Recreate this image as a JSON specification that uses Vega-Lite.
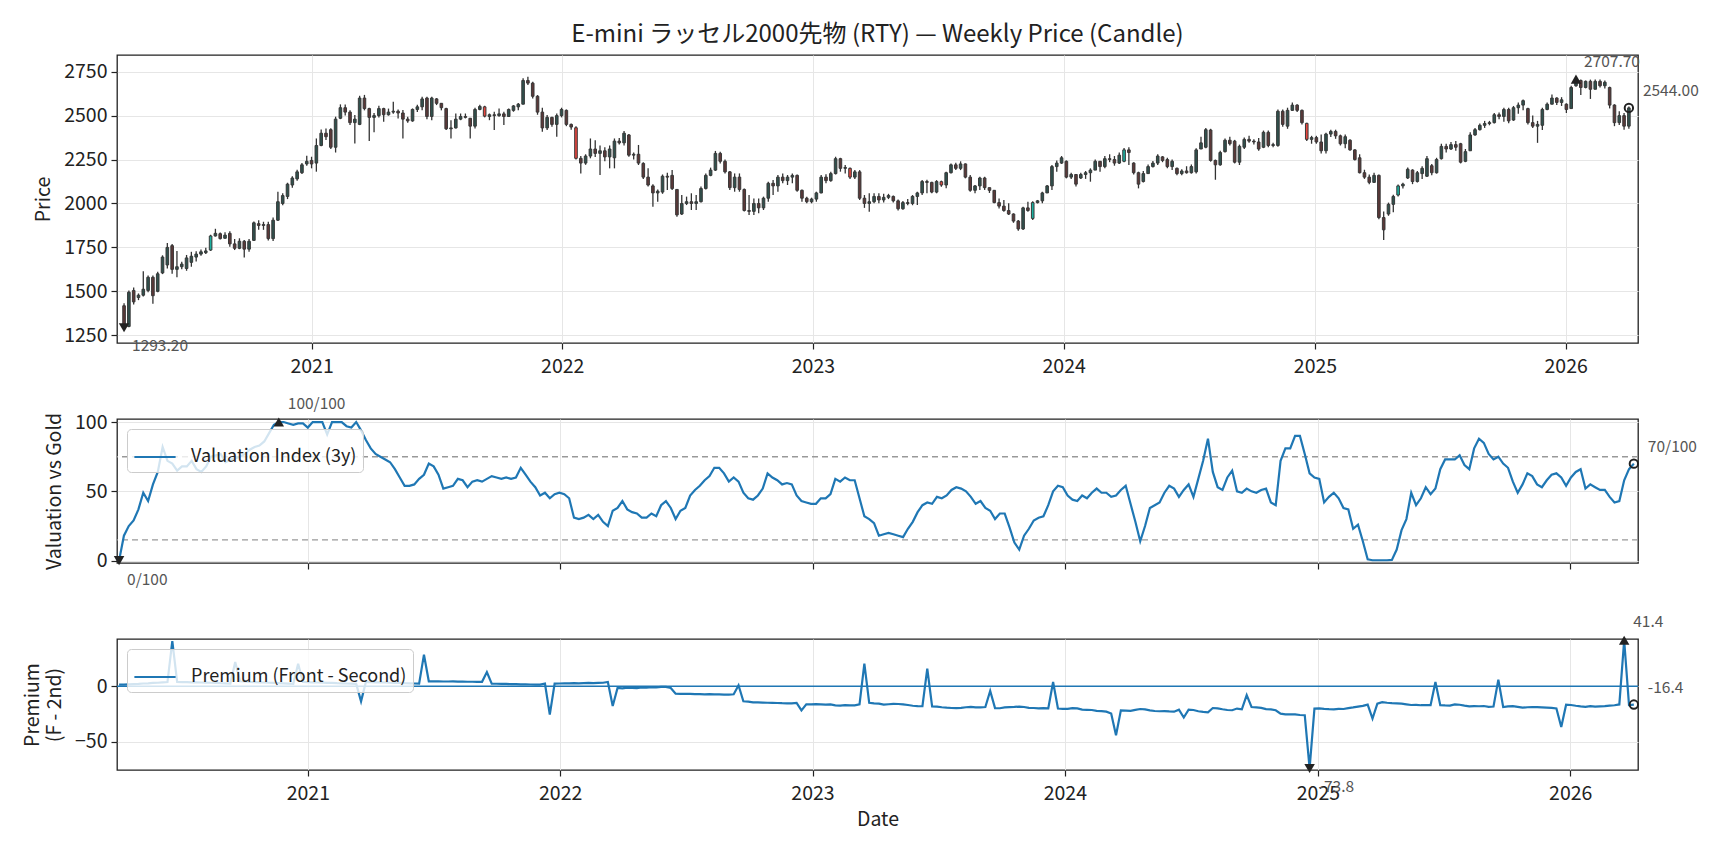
{
"$schema":"https://vega.github.io/schema/vega-lite/v6.json",
"padding":{"left":21,"top":22,"right":10,"bottom":10},
"spacing":76,
"bounds":"flush",
"config":{
 "font":"Noto Sans CJK JP",
 "view":{"stroke":"#222222","strokeWidth":1.3},
 "axis":{"domain":false,"grid":true,"gridColor":"#e6e6e6","gridWidth":1,"tickColor":"#222222","tickSize":6,"tickWidth":1.2,"labelColor":"#222222","labelFontSize":19.5,"titleFontSize":19.5,"titleFontWeight":"normal","titleColor":"#222222","labelPadding":4,"titlePadding":10},
 "legend":{"orient":"none","legendX":10,"legendY":10,"symbolType":"stroke","symbolSize":1700,"symbolStrokeWidth":2.2,"labelFontSize":18,"labelColor":"#222222","labelLimit":600,"fillColor":"rgba(255,255,255,0.8)","strokeColor":"#cccccc","cornerRadius":4,"padding":6,"labelOffset":14}
},
"data":{"values":[
{"d":"2020-04-03","o":1418,"h":1432,"l":1285,"c":1293.2,"v":0,"p":1.5},
{"d":"2020-04-10","o":1300,"h":1505,"l":1296,"c":1495,"v":18,"p":1.5},
{"d":"2020-04-17","o":1505,"h":1522,"l":1425,"c":1440,"v":25,"p":1.8},
{"d":"2020-04-24","o":1465,"h":1488,"l":1450,"c":1478,"v":29,"p":2},
{"d":"2020-05-01","o":1478,"h":1615,"l":1470,"c":1512,"v":37,"p":2.2},
{"d":"2020-05-08","o":1505,"h":1590,"l":1495,"c":1580,"v":49,"p":2.5},
{"d":"2020-05-15","o":1580,"h":1590,"l":1430,"c":1475,"v":43,"p":2.7},
{"d":"2020-05-22","o":1500,"h":1612,"l":1495,"c":1600,"v":55,"p":3},
{"d":"2020-05-29","o":1605,"h":1705,"l":1598,"c":1695,"v":64,"p":3.2},
{"d":"2020-06-05","o":1650,"h":1775,"l":1630,"c":1750,"v":82,"p":3.5},
{"d":"2020-06-12","o":1760,"h":1770,"l":1600,"c":1625,"v":72,"p":3.8},
{"d":"2020-06-19","o":1625,"h":1730,"l":1580,"c":1640,"v":70,"p":40.5},
{"d":"2020-06-26","o":1640,"h":1668,"l":1625,"c":1655,"v":65,"p":3.9},
{"d":"2020-07-03","o":1630,"h":1707,"l":1617,"c":1690,"v":68,"p":3.8},
{"d":"2020-07-10","o":1665,"h":1725,"l":1640,"c":1700,"v":68,"p":3.7},
{"d":"2020-07-17","o":1695,"h":1728,"l":1670,"c":1712,"v":72,"p":3.6},
{"d":"2020-07-24","o":1712,"h":1738,"l":1702,"c":1725,"v":66,"p":3.5},
{"d":"2020-07-31","o":1720,"h":1748,"l":1712,"c":1730,"v":64,"p":3.4},
{"d":"2020-08-07","o":1735,"h":1822,"l":1730,"c":1815,"v":68,"p":3.3,"sig":"buy"},
{"d":"2020-08-14","o":1815,"h":1856,"l":1812,"c":1830,"v":75,"p":3.2},
{"d":"2020-08-21","o":1828,"h":1835,"l":1795,"c":1800,"v":76,"p":3},
{"d":"2020-08-28","o":1802,"h":1836,"l":1800,"c":1820,"v":77,"p":2.8},
{"d":"2020-09-04","o":1830,"h":1842,"l":1754,"c":1770,"v":71,"p":2.7},
{"d":"2020-09-11","o":1770,"h":1798,"l":1735,"c":1745,"v":73,"p":2.5},
{"d":"2020-09-18","o":1745,"h":1802,"l":1740,"c":1785,"v":74,"p":21.9},
{"d":"2020-09-25","o":1785,"h":1792,"l":1692,"c":1740,"v":75,"p":4.5},
{"d":"2020-10-02","o":1740,"h":1798,"l":1725,"c":1785,"v":77,"p":4.3},
{"d":"2020-10-09","o":1790,"h":1898,"l":1788,"c":1890,"v":80,"p":4},
{"d":"2020-10-16","o":1885,"h":1905,"l":1850,"c":1875,"v":82,"p":3.8},
{"d":"2020-10-23","o":1875,"h":1896,"l":1850,"c":1880,"v":83,"p":3.6},
{"d":"2020-10-30","o":1880,"h":1896,"l":1790,"c":1800,"v":86,"p":3.4},
{"d":"2020-11-06","o":1800,"h":1920,"l":1786,"c":1905,"v":92,"p":3.2},
{"d":"2020-11-13","o":1905,"h":2067,"l":1900,"c":2010,"v":98,"p":3},
{"d":"2020-11-20","o":2000,"h":2058,"l":1990,"c":2045,"v":100,"p":2.8},
{"d":"2020-11-27","o":2040,"h":2118,"l":2025,"c":2110,"v":100,"p":2.6},
{"d":"2020-12-04","o":2105,"h":2155,"l":2090,"c":2145,"v":99,"p":2.4},
{"d":"2020-12-11","o":2140,"h":2192,"l":2130,"c":2180,"v":98,"p":2.2},
{"d":"2020-12-18","o":2175,"h":2230,"l":2168,"c":2220,"v":99,"p":20.3},
{"d":"2020-12-25","o":2225,"h":2272,"l":2215,"c":2240,"v":99,"p":3.9},
{"d":"2021-01-01","o":2245,"h":2266,"l":2200,"c":2225,"v":96,"p":3.7},
{"d":"2021-01-08","o":2230,"h":2370,"l":2181,"c":2330,"v":100,"p":3.6},
{"d":"2021-01-15","o":2330,"h":2421,"l":2325,"c":2400,"v":100,"p":3.4},
{"d":"2021-01-22","o":2400,"h":2427,"l":2361,"c":2380,"v":100,"p":3.3},
{"d":"2021-01-29","o":2420,"h":2428,"l":2310,"c":2320,"v":91,"p":3.1},
{"d":"2021-02-05","o":2320,"h":2494,"l":2290,"c":2480,"v":100,"p":3},
{"d":"2021-02-12","o":2485,"h":2564,"l":2480,"c":2545,"v":100,"p":2.8},
{"d":"2021-02-19","o":2545,"h":2564,"l":2500,"c":2520,"v":100,"p":2.7},
{"d":"2021-02-26","o":2520,"h":2530,"l":2446,"c":2460,"v":97,"p":2.5},
{"d":"2021-03-05","o":2460,"h":2503,"l":2342,"c":2480,"v":96,"p":2.4},
{"d":"2021-03-12","o":2450,"h":2613,"l":2446,"c":2600,"v":100,"p":2.2},
{"d":"2021-03-19","o":2600,"h":2618,"l":2530,"c":2540,"v":94,"p":-13.5},
{"d":"2021-03-26","o":2540,"h":2545,"l":2355,"c":2490,"v":87,"p":3.9},
{"d":"2021-04-02","o":2490,"h":2515,"l":2405,"c":2500,"v":81,"p":3.8},
{"d":"2021-04-09","o":2500,"h":2556,"l":2490,"c":2540,"v":77,"p":3.6},
{"d":"2021-04-16","o":2540,"h":2545,"l":2465,"c":2505,"v":75,"p":3.5},
{"d":"2021-04-23","o":2505,"h":2540,"l":2500,"c":2520,"v":73,"p":3.4},
{"d":"2021-04-30","o":2520,"h":2579,"l":2510,"c":2525,"v":71,"p":3.2},
{"d":"2021-05-07","o":2525,"h":2535,"l":2484,"c":2515,"v":66,"p":3.1},
{"d":"2021-05-14","o":2515,"h":2532,"l":2370,"c":2480,"v":60,"p":3},
{"d":"2021-05-21","o":2480,"h":2494,"l":2460,"c":2470,"v":54,"p":2.8},
{"d":"2021-05-28","o":2470,"h":2541,"l":2465,"c":2535,"v":54,"p":2.7},
{"d":"2021-06-04","o":2535,"h":2562,"l":2520,"c":2550,"v":55,"p":2.5},
{"d":"2021-06-11","o":2550,"h":2608,"l":2530,"c":2595,"v":59,"p":2.4},
{"d":"2021-06-18","o":2600,"h":2608,"l":2480,"c":2495,"v":62,"p":28.4},
{"d":"2021-06-25","o":2495,"h":2607,"l":2474,"c":2600,"v":70,"p":4.5},
{"d":"2021-07-02","o":2595,"h":2600,"l":2560,"c":2570,"v":68,"p":4.5},
{"d":"2021-07-09","o":2570,"h":2572,"l":2530,"c":2545,"v":62,"p":4.4},
{"d":"2021-07-16","o":2540,"h":2545,"l":2418,"c":2425,"v":52,"p":4.3},
{"d":"2021-07-23","o":2425,"h":2474,"l":2370,"c":2430,"v":53,"p":4.3},
{"d":"2021-07-30","o":2430,"h":2512,"l":2427,"c":2480,"v":54,"p":4.4},
{"d":"2021-08-06","o":2480,"h":2512,"l":2474,"c":2495,"v":59,"p":4.2},
{"d":"2021-08-13","o":2495,"h":2512,"l":2484,"c":2490,"v":58,"p":4.2},
{"d":"2021-08-20","o":2485,"h":2486,"l":2370,"c":2440,"v":53,"p":4.1},
{"d":"2021-08-27","o":2440,"h":2545,"l":2427,"c":2535,"v":57,"p":4.1},
{"d":"2021-09-03","o":2535,"h":2562,"l":2530,"c":2552,"v":58,"p":4},
{"d":"2021-09-10","o":2550,"h":2556,"l":2490,"c":2497,"v":57,"p":4,"sig":"sell"},
{"d":"2021-09-17","o":2495,"h":2512,"l":2474,"c":2505,"v":59,"p":12.8},
{"d":"2021-09-24","o":2505,"h":2522,"l":2418,"c":2500,"v":61,"p":2.4},
{"d":"2021-10-01","o":2500,"h":2541,"l":2494,"c":2510,"v":60,"p":2.3},
{"d":"2021-10-08","o":2510,"h":2522,"l":2446,"c":2495,"v":59,"p":2.2},
{"d":"2021-10-15","o":2495,"h":2541,"l":2494,"c":2535,"v":60,"p":2.1},
{"d":"2021-10-22","o":2530,"h":2560,"l":2522,"c":2555,"v":59,"p":2},
{"d":"2021-10-29","o":2550,"h":2572,"l":2530,"c":2565,"v":60,"p":1.9},
{"d":"2021-11-05","o":2565,"h":2712,"l":2565,"c":2700,"v":67,"p":1.8},
{"d":"2021-11-12","o":2700,"h":2721,"l":2674,"c":2685,"v":62,"p":1.7},
{"d":"2021-11-19","o":2685,"h":2693,"l":2598,"c":2610,"v":57,"p":1.6},
{"d":"2021-11-26","o":2610,"h":2617,"l":2505,"c":2520,"v":53,"p":1.5},
{"d":"2021-12-03","o":2520,"h":2545,"l":2408,"c":2430,"v":47,"p":1.5},
{"d":"2021-12-10","o":2430,"h":2503,"l":2418,"c":2490,"v":49,"p":2.5},
{"d":"2021-12-17","o":2490,"h":2494,"l":2437,"c":2450,"v":45,"p":-25.5},
{"d":"2021-12-24","o":2450,"h":2512,"l":2380,"c":2500,"v":48,"p":2.4},
{"d":"2021-12-31","o":2500,"h":2545,"l":2490,"c":2535,"v":49,"p":2.5},
{"d":"2022-01-07","o":2530,"h":2535,"l":2440,"c":2450,"v":48,"p":2.6},
{"d":"2022-01-14","o":2450,"h":2455,"l":2420,"c":2435,"v":45,"p":2.7},
{"d":"2022-01-21","o":2431,"h":2440,"l":2250,"c":2257,"v":31,"p":2.8,"sig":"sell"},
{"d":"2022-01-28","o":2257,"h":2270,"l":2171,"c":2230,"v":30,"p":2.6},
{"d":"2022-02-04","o":2230,"h":2280,"l":2220,"c":2270,"v":31,"p":2.9},
{"d":"2022-02-11","o":2270,"h":2370,"l":2257,"c":2310,"v":33,"p":3},
{"d":"2022-02-18","o":2310,"h":2360,"l":2265,"c":2285,"v":30,"p":2.8},
{"d":"2022-02-25","o":2285,"h":2330,"l":2162,"c":2300,"v":33,"p":3.1},
{"d":"2022-03-04","o":2300,"h":2320,"l":2240,"c":2265,"v":28,"p":3.2},
{"d":"2022-03-11","o":2265,"h":2330,"l":2200,"c":2310,"v":25,"p":3.9},
{"d":"2022-03-18","o":2260,"h":2370,"l":2200,"c":2355,"v":36,"p":-17.7},
{"d":"2022-03-25","o":2355,"h":2372,"l":2335,"c":2345,"v":38,"p":-1.5},
{"d":"2022-04-01","o":2345,"h":2412,"l":2330,"c":2400,"v":43,"p":-1.8},
{"d":"2022-04-08","o":2390,"h":2395,"l":2266,"c":2275,"v":37,"p":-1.2},
{"d":"2022-04-15","o":2275,"h":2290,"l":2250,"c":2280,"v":35,"p":-1.4},
{"d":"2022-04-22","o":2280,"h":2333,"l":2219,"c":2230,"v":34,"p":-1.6},
{"d":"2022-04-29","o":2228,"h":2235,"l":2140,"c":2150,"v":31,"p":-1},
{"d":"2022-05-06","o":2150,"h":2200,"l":2096,"c":2105,"v":31,"p":-1.2},
{"d":"2022-05-13","o":2100,"h":2110,"l":1982,"c":2060,"v":34,"p":-0.8},
{"d":"2022-05-20","o":2060,"h":2080,"l":2010,"c":2070,"v":32,"p":-0.9},
{"d":"2022-05-27","o":2065,"h":2165,"l":2055,"c":2155,"v":40,"p":-0.6},
{"d":"2022-06-03","o":2155,"h":2175,"l":2077,"c":2150,"v":43,"p":-0.5},
{"d":"2022-06-10","o":2160,"h":2190,"l":2077,"c":2085,"v":38,"p":-1.5},
{"d":"2022-06-17","o":2080,"h":2080,"l":1925,"c":1935,"v":30,"p":-6.6},
{"d":"2022-06-24","o":1940,"h":2048,"l":1935,"c":2000,"v":36,"p":-6.8},
{"d":"2022-07-01","o":2000,"h":2039,"l":1991,"c":2010,"v":38,"p":-6.7},
{"d":"2022-07-08","o":2010,"h":2058,"l":1963,"c":2000,"v":47,"p":-6.8},
{"d":"2022-07-15","o":2000,"h":2048,"l":1963,"c":2010,"v":51,"p":-7},
{"d":"2022-07-22","o":2010,"h":2096,"l":2005,"c":2085,"v":54,"p":-7},
{"d":"2022-07-29","o":2085,"h":2171,"l":2080,"c":2160,"v":58,"p":-7.2},
{"d":"2022-08-05","o":2160,"h":2204,"l":2155,"c":2190,"v":61,"p":-7.1},
{"d":"2022-08-12","o":2190,"h":2299,"l":2185,"c":2285,"v":67,"p":-7.3},
{"d":"2022-08-19","o":2285,"h":2295,"l":2228,"c":2240,"v":67,"p":-7.3},
{"d":"2022-08-26","o":2240,"h":2250,"l":2171,"c":2180,"v":63,"p":-7.4},
{"d":"2022-09-02","o":2180,"h":2185,"l":2077,"c":2090,"v":57,"p":-7.5},
{"d":"2022-09-09","o":2090,"h":2171,"l":2067,"c":2150,"v":60,"p":-7.2},
{"d":"2022-09-16","o":2150,"h":2171,"l":2067,"c":2080,"v":57,"p":0.9},
{"d":"2022-09-23","o":2080,"h":2085,"l":1954,"c":1960,"v":49,"p":-13.5},
{"d":"2022-09-30","o":1960,"h":2048,"l":1934,"c":1955,"v":45,"p":-13.8},
{"d":"2022-10-07","o":1955,"h":2029,"l":1934,"c":2000,"v":44,"p":-14.5},
{"d":"2022-10-14","o":2000,"h":2029,"l":1944,"c":1975,"v":47,"p":-14.4},
{"d":"2022-10-21","o":1975,"h":2039,"l":1963,"c":2030,"v":52,"p":-14.6},
{"d":"2022-10-28","o":2030,"h":2124,"l":2010,"c":2115,"v":63,"p":-14.8},
{"d":"2022-11-04","o":2115,"h":2133,"l":2048,"c":2100,"v":60,"p":-14.9},
{"d":"2022-11-11","o":2100,"h":2162,"l":2067,"c":2150,"v":58,"p":-15},
{"d":"2022-11-18","o":2150,"h":2171,"l":2115,"c":2130,"v":55,"p":-15.2},
{"d":"2022-11-25","o":2130,"h":2162,"l":2105,"c":2150,"v":56,"p":-15.3},
{"d":"2022-12-02","o":2150,"h":2171,"l":2115,"c":2160,"v":55,"p":-15.3},
{"d":"2022-12-09","o":2160,"h":2165,"l":2067,"c":2075,"v":47,"p":-14.9},
{"d":"2022-12-16","o":2075,"h":2080,"l":2010,"c":2030,"v":43,"p":-21.6},
{"d":"2022-12-23","o":2030,"h":2039,"l":2001,"c":2010,"v":42,"p":-16.2},
{"d":"2022-12-30","o":2010,"h":2033,"l":2001,"c":2025,"v":41,"p":-16.2},
{"d":"2023-01-06","o":2025,"h":2067,"l":2010,"c":2060,"v":41,"p":-16.1},
{"d":"2023-01-13","o":2060,"h":2162,"l":2058,"c":2150,"v":45,"p":-16.2},
{"d":"2023-01-20","o":2150,"h":2166,"l":2115,"c":2130,"v":45,"p":-16.4},
{"d":"2023-01-27","o":2130,"h":2181,"l":2124,"c":2170,"v":48,"p":-16.3},
{"d":"2023-02-03","o":2170,"h":2266,"l":2165,"c":2255,"v":59,"p":-17.2},
{"d":"2023-02-10","o":2255,"h":2260,"l":2181,"c":2200,"v":57,"p":-17.3},
{"d":"2023-02-17","o":2200,"h":2219,"l":2171,"c":2205,"v":60,"p":-17},
{"d":"2023-02-24","o":2200,"h":2205,"l":2140,"c":2150,"v":58,"p":-17.2,"sig":"sell"},
{"d":"2023-03-03","o":2150,"h":2190,"l":2140,"c":2180,"v":58,"p":-17.1},
{"d":"2023-03-10","o":2180,"h":2190,"l":2020,"c":2030,"v":45,"p":-16.2},
{"d":"2023-03-17","o":2030,"h":2048,"l":1975,"c":2000,"v":32,"p":20.3},
{"d":"2023-03-24","o":2000,"h":2058,"l":1953,"c":2010,"v":30,"p":-14.8},
{"d":"2023-03-31","o":2010,"h":2058,"l":2001,"c":2040,"v":27,"p":-15.3},
{"d":"2023-04-07","o":2040,"h":2058,"l":2001,"c":2020,"v":18,"p":-15.6},
{"d":"2023-04-14","o":2020,"h":2055,"l":2005,"c":2035,"v":19,"p":-16.5},
{"d":"2023-04-21","o":2035,"h":2055,"l":2025,"c":2045,"v":20,"p":-16.1},
{"d":"2023-04-28","o":2040,"h":2045,"l":2005,"c":2015,"v":19,"p":-15.8},
{"d":"2023-05-05","o":2015,"h":2022,"l":1960,"c":1970,"v":18,"p":-15.9},
{"d":"2023-05-12","o":1970,"h":2014,"l":1965,"c":2005,"v":17,"p":-16.2},
{"d":"2023-05-19","o":2005,"h":2025,"l":1990,"c":2000,"v":23,"p":-16.8},
{"d":"2023-05-26","o":2000,"h":2048,"l":1990,"c":2040,"v":28,"p":-17.5},
{"d":"2023-06-02","o":2040,"h":2067,"l":1991,"c":2060,"v":35,"p":-17.8},
{"d":"2023-06-09","o":2060,"h":2133,"l":2048,"c":2125,"v":40,"p":-17.9},
{"d":"2023-06-16","o":2125,"h":2135,"l":2058,"c":2120,"v":42,"p":15.8},
{"d":"2023-06-23","o":2120,"h":2124,"l":2058,"c":2065,"v":41,"p":-18},
{"d":"2023-06-30","o":2065,"h":2133,"l":2058,"c":2125,"v":46,"p":-18.2},
{"d":"2023-07-07","o":2124,"h":2130,"l":2095,"c":2105,"v":45,"p":-18.8,"sig":"sell"},
{"d":"2023-07-14","o":2105,"h":2181,"l":2086,"c":2175,"v":47,"p":-19.2},
{"d":"2023-07-21","o":2175,"h":2228,"l":2171,"c":2220,"v":51,"p":-19.5},
{"d":"2023-07-28","o":2220,"h":2232,"l":2190,"c":2200,"v":53,"p":-19.6},
{"d":"2023-08-04","o":2200,"h":2240,"l":2190,"c":2225,"v":52,"p":-19.3},
{"d":"2023-08-11","o":2225,"h":2228,"l":2143,"c":2150,"v":50,"p":-18.8},
{"d":"2023-08-18","o":2150,"h":2162,"l":2067,"c":2075,"v":46,"p":-18.5},
{"d":"2023-08-25","o":2075,"h":2105,"l":2058,"c":2100,"v":41,"p":-18.9},
{"d":"2023-09-01","o":2100,"h":2152,"l":2077,"c":2145,"v":43,"p":-19},
{"d":"2023-09-08","o":2145,"h":2152,"l":2077,"c":2090,"v":38,"p":-18.6},
{"d":"2023-09-15","o":2090,"h":2090,"l":2060,"c":2075,"v":36,"p":-4.2},
{"d":"2023-09-22","o":2075,"h":2077,"l":2001,"c":2005,"v":30,"p":-19.6},
{"d":"2023-09-29","o":2005,"h":2029,"l":1972,"c":1985,"v":34,"p":-19.7},
{"d":"2023-10-06","o":1985,"h":2020,"l":1953,"c":1960,"v":34,"p":-19},
{"d":"2023-10-13","o":1960,"h":2001,"l":1934,"c":1940,"v":24,"p":-18.7},
{"d":"2023-10-20","o":1940,"h":1944,"l":1890,"c":1900,"v":13,"p":-18.5},
{"d":"2023-10-27","o":1900,"h":1906,"l":1845,"c":1855,"v":8,"p":-18.2},
{"d":"2023-11-03","o":1855,"h":1982,"l":1849,"c":1975,"v":18,"p":-18.6},
{"d":"2023-11-10","o":1975,"h":2010,"l":1953,"c":1960,"v":23,"p":-19.4},
{"d":"2023-11-17","o":1915,"h":2012,"l":1906,"c":2005,"v":29,"p":-19.5,"sig":"buy"},
{"d":"2023-11-24","o":2005,"h":2020,"l":2000,"c":2015,"v":31,"p":-19.8},
{"d":"2023-12-01","o":2015,"h":2067,"l":2001,"c":2060,"v":32,"p":-19.6},
{"d":"2023-12-08","o":2060,"h":2105,"l":2060,"c":2100,"v":40,"p":-19.9},
{"d":"2023-12-15","o":2100,"h":2219,"l":2077,"c":2210,"v":50,"p":3.9},
{"d":"2023-12-22","o":2210,"h":2245,"l":2181,"c":2230,"v":54,"p":-20},
{"d":"2023-12-29","o":2230,"h":2270,"l":2225,"c":2260,"v":53,"p":-20.2},
{"d":"2024-01-05","o":2240,"h":2245,"l":2143,"c":2150,"v":47,"p":-20.3},
{"d":"2024-01-12","o":2150,"h":2175,"l":2140,"c":2165,"v":44,"p":-19.6},
{"d":"2024-01-19","o":2165,"h":2165,"l":2096,"c":2110,"v":43,"p":-19.8},
{"d":"2024-01-26","o":2145,"h":2175,"l":2140,"c":2165,"v":47,"p":-21},
{"d":"2024-02-02","o":2165,"h":2185,"l":2140,"c":2175,"v":45,"p":-21.1},
{"d":"2024-02-09","o":2175,"h":2200,"l":2124,"c":2190,"v":49,"p":-21.3},
{"d":"2024-02-16","o":2190,"h":2250,"l":2190,"c":2240,"v":52,"p":-22},
{"d":"2024-02-23","o":2240,"h":2240,"l":2181,"c":2210,"v":49,"p":-22.3},
{"d":"2024-03-01","o":2210,"h":2270,"l":2200,"c":2255,"v":49,"p":-22.8},
{"d":"2024-03-08","o":2255,"h":2280,"l":2235,"c":2250,"v":46,"p":-24.5},
{"d":"2024-03-15","o":2250,"h":2270,"l":2215,"c":2230,"v":47,"p":-44},
{"d":"2024-03-22","o":2230,"h":2290,"l":2225,"c":2275,"v":51,"p":-21.6},
{"d":"2024-03-29","o":2240,"h":2316,"l":2235,"c":2305,"v":54,"p":-21.8,"sig":"buy"},
{"d":"2024-04-05","o":2305,"h":2320,"l":2219,"c":2290,"v":41,"p":-22},
{"d":"2024-04-12","o":2230,"h":2235,"l":2165,"c":2175,"v":28,"p":-21.2},
{"d":"2024-04-19","o":2175,"h":2181,"l":2086,"c":2110,"v":14,"p":-20.4},
{"d":"2024-04-26","o":2125,"h":2185,"l":2120,"c":2170,"v":25,"p":-20.8},
{"d":"2024-05-03","o":2170,"h":2222,"l":2170,"c":2210,"v":38,"p":-21.6},
{"d":"2024-05-10","o":2210,"h":2242,"l":2205,"c":2230,"v":40,"p":-22.2},
{"d":"2024-05-17","o":2230,"h":2280,"l":2219,"c":2270,"v":42,"p":-22.4},
{"d":"2024-05-24","o":2265,"h":2270,"l":2235,"c":2245,"v":49,"p":-22.3},
{"d":"2024-05-31","o":2250,"h":2260,"l":2200,"c":2210,"v":54,"p":-22.6},
{"d":"2024-06-07","o":2210,"h":2250,"l":2190,"c":2240,"v":52,"p":-22.8},
{"d":"2024-06-14","o":2200,"h":2205,"l":2160,"c":2170,"v":46,"p":-21},
{"d":"2024-06-21","o":2170,"h":2195,"l":2160,"c":2185,"v":51,"p":-28},
{"d":"2024-06-28","o":2185,"h":2212,"l":2170,"c":2175,"v":55,"p":-21},
{"d":"2024-07-05","o":2175,"h":2222,"l":2170,"c":2210,"v":46,"p":-21.3},
{"d":"2024-07-12","o":2180,"h":2315,"l":2171,"c":2305,"v":59,"p":-22.4},
{"d":"2024-07-19","o":2310,"h":2380,"l":2310,"c":2345,"v":72,"p":-23},
{"d":"2024-07-26","o":2320,"h":2430,"l":2314,"c":2420,"v":88,"p":-23.4},
{"d":"2024-08-02","o":2418,"h":2425,"l":2238,"c":2245,"v":64,"p":-19.5},
{"d":"2024-08-09","o":2245,"h":2250,"l":2135,"c":2220,"v":53,"p":-19.8},
{"d":"2024-08-16","o":2220,"h":2300,"l":2215,"c":2290,"v":51,"p":-20.6},
{"d":"2024-08-23","o":2295,"h":2370,"l":2290,"c":2360,"v":60,"p":-21.3},
{"d":"2024-08-30","o":2360,"h":2380,"l":2330,"c":2340,"v":65,"p":-21.5},
{"d":"2024-09-06","o":2355,"h":2362,"l":2228,"c":2235,"v":50,"p":-20},
{"d":"2024-09-13","o":2235,"h":2335,"l":2219,"c":2325,"v":49,"p":-20.7},
{"d":"2024-09-20","o":2320,"h":2375,"l":2310,"c":2365,"v":52,"p":-8},
{"d":"2024-09-27","o":2365,"h":2385,"l":2345,"c":2355,"v":50,"p":-18.6},
{"d":"2024-10-04","o":2355,"h":2365,"l":2335,"c":2350,"v":49,"p":-19},
{"d":"2024-10-11","o":2350,"h":2372,"l":2300,"c":2310,"v":51,"p":-19.4},
{"d":"2024-10-18","o":2320,"h":2415,"l":2315,"c":2405,"v":52,"p":-20.5},
{"d":"2024-10-25","o":2405,"h":2415,"l":2320,"c":2330,"v":42,"p":-20.8},
{"d":"2024-11-01","o":2330,"h":2345,"l":2320,"c":2335,"v":40,"p":-21.5},
{"d":"2024-11-08","o":2330,"h":2535,"l":2323,"c":2525,"v":72,"p":-24.6},
{"d":"2024-11-15","o":2525,"h":2535,"l":2437,"c":2450,"v":81,"p":-25.2},
{"d":"2024-11-22","o":2440,"h":2545,"l":2425,"c":2530,"v":81,"p":-25.3},
{"d":"2024-11-29","o":2530,"h":2575,"l":2528,"c":2560,"v":90,"p":-25.3},
{"d":"2024-12-06","o":2560,"h":2565,"l":2520,"c":2530,"v":90,"p":-25.8},
{"d":"2024-12-13","o":2530,"h":2535,"l":2450,"c":2460,"v":77,"p":-26},
{"d":"2024-12-20","o":2456,"h":2460,"l":2355,"c":2365,"v":63,"p":-73.8,"sig":"sell"},
{"d":"2024-12-27","o":2365,"h":2385,"l":2340,"c":2375,"v":60,"p":-20},
{"d":"2025-01-03","o":2375,"h":2385,"l":2340,"c":2350,"v":59,"p":-19.8},
{"d":"2025-01-10","o":2350,"h":2392,"l":2285,"c":2300,"v":42,"p":-20.2},
{"d":"2025-01-17","o":2300,"h":2402,"l":2285,"c":2395,"v":46,"p":-20.5},
{"d":"2025-01-24","o":2395,"h":2420,"l":2378,"c":2410,"v":49,"p":-20.7},
{"d":"2025-01-31","o":2410,"h":2420,"l":2368,"c":2385,"v":45,"p":-20.3},
{"d":"2025-02-07","o":2385,"h":2392,"l":2330,"c":2340,"v":38,"p":-20.4},
{"d":"2025-02-14","o":2340,"h":2392,"l":2314,"c":2380,"v":37,"p":-19.6},
{"d":"2025-02-21","o":2360,"h":2365,"l":2300,"c":2305,"v":23,"p":-19},
{"d":"2025-02-28","o":2305,"h":2308,"l":2245,"c":2250,"v":26,"p":-18.3},
{"d":"2025-03-07","o":2260,"h":2280,"l":2171,"c":2175,"v":14,"p":-17.6},
{"d":"2025-03-14","o":2175,"h":2192,"l":2140,"c":2150,"v":1,"p":-16.5},
{"d":"2025-03-21","o":2150,"h":2165,"l":2110,"c":2120,"v":0.3,"p":-29},
{"d":"2025-03-28","o":2120,"h":2175,"l":2120,"c":2160,"v":0.3,"p":-15.6},
{"d":"2025-04-04","o":2160,"h":2165,"l":1910,"c":1920,"v":0.3,"p":-14.2},
{"d":"2025-04-11","o":1920,"h":1955,"l":1792,"c":1850,"v":0.3,"p":-14.8},
{"d":"2025-04-18","o":1940,"h":2005,"l":1930,"c":1995,"v":0.5,"p":-15.2},
{"d":"2025-04-25","o":1995,"h":2050,"l":1950,"c":2040,"v":8,"p":-15.3},
{"d":"2025-05-02","o":2048,"h":2108,"l":2040,"c":2100,"v":22,"p":-15.6,"sig":"buy"},
{"d":"2025-05-09","o":2100,"h":2118,"l":2085,"c":2110,"v":30,"p":-16.2},
{"d":"2025-05-16","o":2145,"h":2205,"l":2140,"c":2195,"v":49,"p":-16.8},
{"d":"2025-05-23","o":2190,"h":2195,"l":2110,"c":2125,"v":40,"p":-16.7},
{"d":"2025-05-30","o":2125,"h":2185,"l":2120,"c":2175,"v":45,"p":-17},
{"d":"2025-06-06","o":2170,"h":2212,"l":2140,"c":2200,"v":53,"p":-16.9},
{"d":"2025-06-13","o":2155,"h":2270,"l":2150,"c":2255,"v":48,"p":-16.9},
{"d":"2025-06-20","o":2215,"h":2225,"l":2160,"c":2175,"v":52,"p":3.9},
{"d":"2025-06-27","o":2175,"h":2260,"l":2170,"c":2250,"v":66,"p":-17},
{"d":"2025-07-04","o":2255,"h":2340,"l":2250,"c":2325,"v":73,"p":-17.2},
{"d":"2025-07-11","o":2325,"h":2340,"l":2290,"c":2310,"v":73,"p":-17.3},
{"d":"2025-07-18","o":2310,"h":2350,"l":2305,"c":2335,"v":73,"p":-16.2},
{"d":"2025-07-25","o":2335,"h":2355,"l":2300,"c":2320,"v":76,"p":-16.6},
{"d":"2025-08-01","o":2340,"h":2345,"l":2228,"c":2235,"v":69,"p":-17.4},
{"d":"2025-08-08","o":2240,"h":2310,"l":2235,"c":2295,"v":66,"p":-18},
{"d":"2025-08-15","o":2300,"h":2405,"l":2300,"c":2390,"v":81,"p":-17.8},
{"d":"2025-08-22","o":2390,"h":2430,"l":2385,"c":2420,"v":88,"p":-17.9},
{"d":"2025-08-29","o":2420,"h":2455,"l":2415,"c":2445,"v":85,"p":-17.7},
{"d":"2025-09-05","o":2445,"h":2470,"l":2430,"c":2455,"v":77,"p":-18.5},
{"d":"2025-09-12","o":2455,"h":2470,"l":2445,"c":2460,"v":73,"p":-18.2},
{"d":"2025-09-19","o":2460,"h":2515,"l":2455,"c":2505,"v":75,"p":6},
{"d":"2025-09-26","o":2505,"h":2518,"l":2480,"c":2495,"v":70,"p":-18.6},
{"d":"2025-10-03","o":2495,"h":2545,"l":2465,"c":2535,"v":67,"p":-18},
{"d":"2025-10-10","o":2535,"h":2545,"l":2456,"c":2470,"v":57,"p":-17.9},
{"d":"2025-10-17","o":2475,"h":2555,"l":2470,"c":2545,"v":49,"p":-18.5},
{"d":"2025-10-24","o":2545,"h":2575,"l":2510,"c":2560,"v":55,"p":-19.2},
{"d":"2025-10-31","o":2560,"h":2592,"l":2530,"c":2585,"v":63,"p":-18.8},
{"d":"2025-11-07","o":2540,"h":2545,"l":2450,"c":2460,"v":61,"p":-18.6},
{"d":"2025-11-14","o":2460,"h":2500,"l":2430,"c":2440,"v":55,"p":-18.7},
{"d":"2025-11-21","o":2440,"h":2470,"l":2345,"c":2450,"v":53,"p":-18.9},
{"d":"2025-11-28","o":2445,"h":2545,"l":2418,"c":2535,"v":58,"p":-19.1},
{"d":"2025-12-05","o":2535,"h":2575,"l":2530,"c":2565,"v":62,"p":-19.4},
{"d":"2025-12-12","o":2565,"h":2620,"l":2565,"c":2600,"v":63,"p":-19.9},
{"d":"2025-12-19","o":2600,"h":2605,"l":2560,"c":2575,"v":60,"p":-36.6},
{"d":"2025-12-26","o":2575,"h":2605,"l":2555,"c":2590,"v":54,"p":-16.5},
{"d":"2026-01-02","o":2565,"h":2570,"l":2515,"c":2535,"v":60,"p":-16.8},
{"d":"2026-01-09","o":2540,"h":2670,"l":2540,"c":2660,"v":64,"p":-17.5},
{"d":"2026-01-16","o":2670,"h":2720,"l":2665,"c":2707.7,"v":66,"p":-18},
{"d":"2026-01-23","o":2700,"h":2705,"l":2617,"c":2660,"v":52,"p":-18.4},
{"d":"2026-01-30","o":2660,"h":2700,"l":2655,"c":2695,"v":55,"p":-17.9},
{"d":"2026-02-06","o":2695,"h":2705,"l":2595,"c":2650,"v":53,"p":-18.2},
{"d":"2026-02-13","o":2650,"h":2705,"l":2650,"c":2695,"v":51,"p":-18},
{"d":"2026-02-20","o":2695,"h":2705,"l":2660,"c":2670,"v":51,"p":-17.8},
{"d":"2026-02-27","o":2670,"h":2700,"l":2655,"c":2690,"v":46,"p":-17.3},
{"d":"2026-03-06","o":2660,"h":2665,"l":2541,"c":2560,"v":42,"p":-17},
{"d":"2026-03-13","o":2560,"h":2565,"l":2440,"c":2460,"v":43,"p":-16.3},
{"d":"2026-03-20","o":2460,"h":2525,"l":2446,"c":2500,"v":58,"p":41.4},
{"d":"2026-03-27","o":2500,"h":2515,"l":2420,"c":2440,"v":66,"p":-16.8},
{"d":"2026-04-03","o":2440,"h":2552,"l":2425,"c":2544,"v":70,"p":-16.4}
]},
"vconcat":[
{
 "title":{"text":"E-mini ラッセル2000先物 (RTY) — Weekly Price (Candle)","fontSize":24,"fontWeight":"normal","color":"#222222","offset":8,"anchor":"middle","frame":"group"},
 "width":1521,"height":288,
 "layer":[
  {"mark":{"type":"rule","color":"#333333","strokeWidth":1.3},
   "encoding":{
    "x":{"field":"d","type":"temporal","title":null,"scale":{"domain":[{"year":2020,"month":3,"date":31,"utc":true},{"year":2026,"month":4,"date":9,"utc":true}],"nice":false},
         "axis":{"values":[{"year":2021,"month":1,"date":1,"utc":true},{"year":2022,"month":1,"date":1,"utc":true},{"year":2023,"month":1,"date":1,"utc":true},{"year":2024,"month":1,"date":1,"utc":true},{"year":2025,"month":1,"date":1,"utc":true},{"year":2026,"month":1,"date":1,"utc":true}],"labelExpr":"utcFormat(datum.value, '%Y')","labelPadding":8}},
    "y":{"field":"l","type":"quantitative","title":"Price","scale":{"domain":[1206,2845],"nice":false,"zero":false},"axis":{"values":[1250,1500,1750,2000,2250,2500,2750],"format":"d"}},
    "y2":{"field":"h"}}},
  {"mark":{"type":"bar","size":2.6,"stroke":"#383838","strokeWidth":1},
   "encoding":{
    "x":{"field":"d","type":"temporal","title":null},
    "y":{"field":"o","type":"quantitative","title":"Price"},
    "y2":{"field":"c"},
    "fill":{"condition":[{"test":"datum.sig === 'sell'","value":"#e8463e"},{"test":"datum.sig === 'buy'","value":"#1ab0a0"},{"test":"datum.c >= datum.o","value":"#2f514d"}],"value":"#5c3838"}}},
  {"data":{"values":[{"d":"2020-04-03","y":1293.2,"t":"1293.20"}]},
   "encoding":{"x":{"field":"d","type":"temporal","title":null},"y":{"field":"y","type":"quantitative","title":"Price"}},
   "layer":[{"mark":{"type":"point","shape":"triangle-down","filled":true,"color":"#222222","size":110,"opacity":1}},
            {"mark":{"type":"text","align":"left","baseline":"middle","dx":8,"dy":18,"fontSize":15.5,"color":"#555555"},"encoding":{"text":{"field":"t"}}}]},
  {"data":{"values":[{"d":"2026-01-16","y":2707.7,"t":"2707.70"}]},
   "encoding":{"x":{"field":"d","type":"temporal","title":null},"y":{"field":"y","type":"quantitative","title":"Price"}},
   "layer":[{"mark":{"type":"point","shape":"triangle-up","filled":true,"color":"#222222","size":110,"opacity":1}},
            {"mark":{"type":"text","align":"left","baseline":"middle","dx":8,"dy":-17,"fontSize":15.5,"color":"#555555"},"encoding":{"text":{"field":"t"}}}]},
  {"data":{"values":[{"d":"2026-04-03","y":2544,"t":"2544.00"}]},
   "encoding":{"x":{"field":"d","type":"temporal","title":null},"y":{"field":"y","type":"quantitative","title":"Price"}},
   "layer":[{"mark":{"type":"point","shape":"circle","filled":false,"color":"#222222","strokeWidth":2,"size":70,"opacity":1}},
            {"mark":{"type":"text","align":"left","baseline":"middle","dx":14,"dy":-17,"fontSize":15.5,"color":"#555555"},"encoding":{"text":{"field":"t"}}}]}
 ]
},
{
 "width":1521,"height":144,
 "layer":[
  {"data":{"values":[{"y":75},{"y":15}]},
   "mark":{"type":"rule","color":"#999999","strokeDash":[6,4],"strokeWidth":1.4},
   "encoding":{"y":{"field":"y","type":"quantitative","title":"Valuation vs Gold","scale":{"domain":[-1.7,102.2],"nice":false,"zero":false},"axis":{"values":[0,15,50,75,100]}}}},
  {"mark":{"type":"line","strokeWidth":2.2},
   "encoding":{
    "x":{"field":"d","type":"temporal","title":null,"scale":{"domain":[{"year":2020,"month":3,"date":31,"utc":true},{"year":2026,"month":4,"date":9,"utc":true}],"nice":false},
         "axis":{"values":[{"year":2021,"month":1,"date":1,"utc":true},{"year":2022,"month":1,"date":1,"utc":true},{"year":2023,"month":1,"date":1,"utc":true},{"year":2024,"month":1,"date":1,"utc":true},{"year":2025,"month":1,"date":1,"utc":true},{"year":2026,"month":1,"date":1,"utc":true}],"labels":false}},
    "y":{"field":"v","type":"quantitative","title":"Valuation vs Gold"},
    "color":{"datum":"Valuation Index (3y)","type":"nominal","scale":{"range":["#1f77b4"]},"legend":{"title":null}}}},
  {"data":{"values":[{"d":"2020-04-03","y":0,"t":"0/100"}]},
   "encoding":{"x":{"field":"d","type":"temporal","title":null},"y":{"field":"y","type":"quantitative","title":"Valuation vs Gold"}},
   "layer":[{"mark":{"type":"point","shape":"triangle-down","filled":true,"color":"#222222","size":110,"opacity":1}},
            {"mark":{"type":"text","align":"left","baseline":"middle","dx":8,"dy":19,"fontSize":15.5,"color":"#555555"},"encoding":{"text":{"field":"t"}}}]},
  {"data":{"values":[{"d":"2020-11-20","y":100,"t":"100/100"}]},
   "encoding":{"x":{"field":"d","type":"temporal","title":null},"y":{"field":"y","type":"quantitative","title":"Valuation vs Gold"}},
   "layer":[{"mark":{"type":"point","shape":"triangle-up","filled":true,"color":"#222222","size":110,"opacity":1}},
            {"mark":{"type":"text","align":"left","baseline":"middle","dx":9,"dy":-18,"fontSize":15.5,"color":"#555555"},"encoding":{"text":{"field":"t"}}}]},
  {"data":{"values":[{"d":"2026-04-03","y":70,"t":"70/100"}]},
   "encoding":{"x":{"field":"d","type":"temporal","title":null},"y":{"field":"y","type":"quantitative","title":"Valuation vs Gold"}},
   "layer":[{"mark":{"type":"point","shape":"circle","filled":false,"color":"#222222","strokeWidth":2,"size":70,"opacity":1}},
            {"mark":{"type":"text","align":"left","baseline":"middle","dx":14,"dy":-17,"fontSize":15.5,"color":"#555555"},"encoding":{"text":{"field":"t"}}}]}
 ]
},
{
 "width":1521,"height":131,
 "layer":[
  {"data":{"values":[{"y":0}]},
   "mark":{"type":"rule","color":"#1f77b4","strokeWidth":1.6},
   "encoding":{"y":{"field":"y","type":"quantitative","title":["Premium","(F - 2nd)"],"scale":{"domain":[-75.2,42.5],"nice":false,"zero":false},"axis":{"values":[-50,0],"titleLineHeight":22}}}},
  {"mark":{"type":"line","strokeWidth":2.2},
   "encoding":{
    "x":{"field":"d","type":"temporal","title":"Date","scale":{"domain":[{"year":2020,"month":3,"date":31,"utc":true},{"year":2026,"month":4,"date":9,"utc":true}],"nice":false},
         "axis":{"values":[{"year":2021,"month":1,"date":1,"utc":true},{"year":2022,"month":1,"date":1,"utc":true},{"year":2023,"month":1,"date":1,"utc":true},{"year":2024,"month":1,"date":1,"utc":true},{"year":2025,"month":1,"date":1,"utc":true},{"year":2026,"month":1,"date":1,"utc":true}],"labelExpr":"utcFormat(datum.value, '%Y')","labelPadding":8,"titlePadding":8}},
    "y":{"field":"p","type":"quantitative","title":["Premium","(F - 2nd)"]},
    "color":{"datum":"Premium (Front - Second)","type":"nominal","scale":{"range":["#1f77b4"]},"legend":{"title":null}}}},
  {"data":{"values":[{"d":"2024-12-20","y":-73.8,"t":"-73.8"}]},
   "encoding":{"x":{"field":"d","type":"temporal","title":"Date"},"y":{"field":"y","type":"quantitative","title":["Premium","(F - 2nd)"]}},
   "layer":[{"mark":{"type":"point","shape":"triangle-down","filled":true,"color":"#222222","size":110,"opacity":1}},
            {"mark":{"type":"text","align":"left","baseline":"middle","dx":9,"dy":19,"fontSize":15.5,"color":"#555555"},"encoding":{"text":{"field":"t"}}}]},
  {"data":{"values":[{"d":"2026-03-20","y":41.4,"t":"41.4"}]},
   "encoding":{"x":{"field":"d","type":"temporal","title":"Date"},"y":{"field":"y","type":"quantitative","title":["Premium","(F - 2nd)"]}},
   "layer":[{"mark":{"type":"point","shape":"triangle-up","filled":true,"color":"#222222","size":110,"opacity":1}},
            {"mark":{"type":"text","align":"left","baseline":"middle","dx":9,"dy":-18,"fontSize":15.5,"color":"#555555"},"encoding":{"text":{"field":"t"}}}]},
  {"data":{"values":[{"d":"2026-04-03","y":-16.4,"t":"-16.4"}]},
   "encoding":{"x":{"field":"d","type":"temporal","title":"Date"},"y":{"field":"y","type":"quantitative","title":["Premium","(F - 2nd)"]}},
   "layer":[{"mark":{"type":"point","shape":"circle","filled":false,"color":"#222222","strokeWidth":2,"size":70,"opacity":1}},
            {"mark":{"type":"text","align":"left","baseline":"middle","dx":14,"dy":-17,"fontSize":15.5,"color":"#555555"},"encoding":{"text":{"field":"t"}}}]}
 ]
}
],
"resolve":{"scale":{"color":"independent","x":"independent","y":"independent"},"legend":{"color":"independent"}}
}
